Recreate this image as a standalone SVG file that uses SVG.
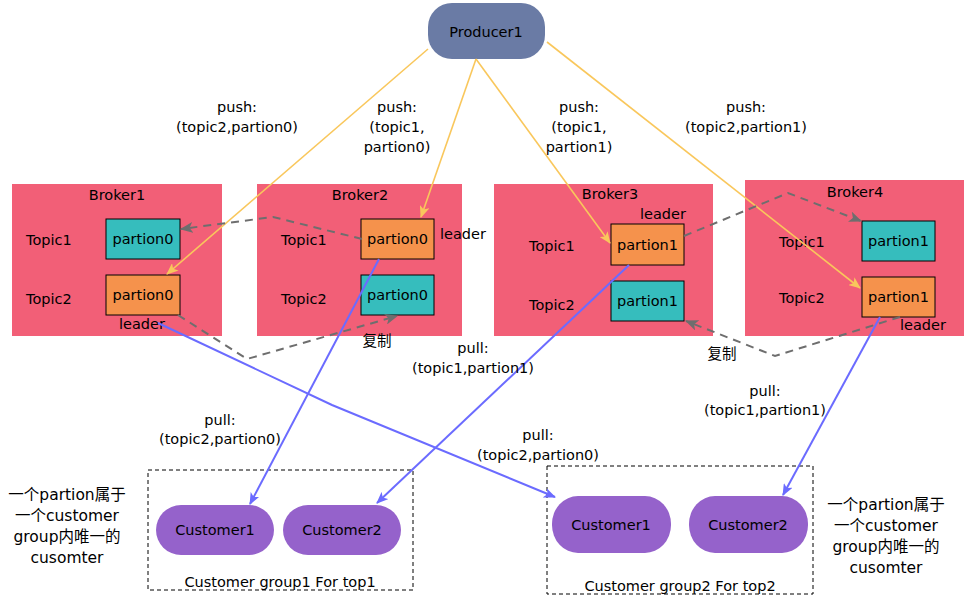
<svg xmlns="http://www.w3.org/2000/svg" width="976" height="602" viewBox="0 0 976 602">
<style>
text{font-family:"DejaVu Sans","Noto Sans CJK SC",sans-serif;font-size:14.5px;fill:#000}
.c{text-anchor:middle}
.note{font-size:15.5px}
.broker{fill:#f25f77}
.lead{fill:#f5924c;stroke:#000;stroke-width:1}
.rep{fill:#36bdbd;stroke:#000;stroke-width:1}
.cust{fill:#9562cb}
.grp{fill:none;stroke:#000;stroke-width:1;stroke-dasharray:4,3}
.push{fill:none;stroke:#f9c75c;stroke-width:1.6;marker-end:url(#ay)}
.pull{fill:none;stroke:#6b6bff;stroke-width:2;marker-end:url(#ab)}
.copy{fill:none;stroke:#6e6e6e;stroke-width:2;stroke-dasharray:8,6;marker-end:url(#ag)}
</style>
<defs>
<marker id="ay" viewBox="0 0 12 10" refX="11" refY="5" markerWidth="12" markerHeight="10" markerUnits="userSpaceOnUse" orient="auto"><path d="M0,0 L12,5 L0,10 L3,5 z" fill="#f9c75c"/></marker>
<marker id="ab" viewBox="0 0 12 10" refX="11" refY="5" markerWidth="12" markerHeight="10" markerUnits="userSpaceOnUse" orient="auto"><path d="M0,0 L12,5 L0,10 L3,5 z" fill="#6b6bff"/></marker>
<marker id="ag" viewBox="0 0 12 10" refX="11" refY="5" markerWidth="13" markerHeight="11" markerUnits="userSpaceOnUse" orient="auto"><path d="M0,0 L12,5 L0,10 L3,5 z" fill="#6e6e6e"/></marker>
</defs>
<rect width="976" height="602" fill="#fff"/>

<g id="producer1">
<rect x="428" y="3" width="117" height="56" rx="24" ry="24" fill="#6a7ba5"/>
<text class="c" x="486" y="37">Producer1</text>
</g>

<g id="broker1">
<rect class="broker" x="12" y="184" width="210" height="152"/>
<text class="c" x="117" y="200">Broker1</text>
<text x="26" y="245">Topic1</text>
<text x="26" y="304">Topic2</text>
<rect class="rep" x="106" y="219" width="74" height="40"/>
<text class="c" x="143" y="244">partion0</text>
<rect class="lead" x="106" y="275" width="74" height="40"/>
<text class="c" x="143" y="300">partion0</text>
<text class="c" x="142" y="329">leader</text>
</g>

<g id="broker2">
<rect class="broker" x="257" y="184" width="205" height="152"/>
<text class="c" x="360" y="200">Broker2</text>
<text x="281" y="245">Topic1</text>
<text x="281" y="304">Topic2</text>
<rect class="lead" x="361" y="219" width="73" height="40"/>
<text class="c" x="397.5" y="244">partion0</text>
<rect class="rep" x="361" y="275" width="73" height="40"/>
<text class="c" x="397.5" y="300">partion0</text>
<text x="440" y="239">leader</text>
</g>

<g id="broker3">
<rect class="broker" x="494" y="184" width="219" height="152"/>
<text class="c" x="610" y="199">Broker3</text>
<text x="529" y="251">Topic1</text>
<text x="529" y="310">Topic2</text>
<rect class="lead" x="611" y="224" width="73" height="41"/>
<text class="c" x="647.5" y="250">partion1</text>
<rect class="rep" x="611" y="281" width="73" height="40"/>
<text class="c" x="647.5" y="306">partion1</text>
<text class="c" x="663" y="219">leader</text>
</g>

<g id="broker4">
<rect class="broker" x="745" y="180" width="219" height="156"/>
<text class="c" x="855" y="197">Broker4</text>
<text x="779" y="247">Topic1</text>
<text x="779" y="303">Topic2</text>
<rect class="rep" x="862" y="221" width="73" height="40"/>
<text class="c" x="898.5" y="246">partion1</text>
<rect class="lead" x="862" y="277" width="73" height="40"/>
<text class="c" x="898.5" y="302">partion1</text>
<text class="c" x="923" y="330">leader</text>
</g>

<g id="group1">
<rect class="grp" x="148" y="470" width="265" height="120"/>
<rect class="cust" x="156" y="505" width="118" height="50" rx="25" ry="25"/>
<text class="c" x="215" y="535">Customer1</text>
<rect class="cust" x="283" y="505" width="118" height="50" rx="25" ry="25"/>
<text class="c" x="342" y="535">Customer2</text>
<text class="c" x="280" y="587">Customer group1 For top1</text>
</g>

<g id="group2">
<rect class="grp" x="547" y="466" width="266" height="128"/>
<rect class="cust" x="552" y="496" width="119" height="57" rx="26" ry="28"/>
<text class="c" x="611" y="530">Customer1</text>
<rect class="cust" x="689" y="496" width="119" height="57" rx="26" ry="28"/>
<text class="c" x="748" y="530">Customer2</text>
<text class="c" x="680" y="591">Customer group2 For top2</text>
</g>

<g id="note1">
<text class="c note" x="67" y="500">一个partion属于</text>
<text class="c note" x="67" y="521">一个customer</text>
<text class="c note" x="67" y="542">group内唯一的</text>
<text class="c note" x="67" y="563">cusomter</text>
</g>

<g id="note2">
<text class="c note" x="886" y="510">一个partion属于</text>
<text class="c note" x="886" y="531">一个customer</text>
<text class="c note" x="886" y="552">group内唯一的</text>
<text class="c note" x="886" y="573">cusomter</text>
</g>

<g id="connectors">
<path class="push" d="M428,49 L167,274"/>
<path class="push" d="M476,59 L421,217"/>
<path class="push" d="M476,59 L610,243"/>
<path class="push" d="M547,42 L860,288"/>

<path class="copy" d="M362,239 L273,217 L181,229"/>
<path class="copy" d="M178,315 L247,359 L397,316"/>
<path class="copy" d="M684,236 L788,193 L861,221"/>
<path class="copy" d="M900,317 L775,356 L686,321"/>

<path class="pull" d="M379,259 L250,504"/>
<path class="pull" d="M629,265 L377,503"/>
<path class="pull" d="M158,323 L332,405 L555,497"/>
<path class="pull" d="M880,317 L783,495"/>

<text class="c" x="237" y="112">push:</text>
<text class="c" x="237" y="132">(topic2,partion0)</text>
<text class="c" x="397" y="112">push:</text>
<text class="c" x="397" y="132">(topic1,</text>
<text class="c" x="397" y="152">partion0)</text>
<text class="c" x="579" y="112">push:</text>
<text class="c" x="579" y="132">(topic1,</text>
<text class="c" x="579" y="152">partion1)</text>
<text class="c" x="746" y="112">push:</text>
<text class="c" x="746" y="132">(topic2,partion1)</text>

<text class="c" x="377" y="346">复制</text>
<text class="c" x="722" y="359">复制</text>

<text class="c" x="220" y="425">pull:</text>
<text class="c" x="220" y="444">(topic2,partion0)</text>
<text class="c" x="473" y="353">pull:</text>
<text class="c" x="473" y="373">(topic1,partion1)</text>
<text class="c" x="538" y="440">pull:</text>
<text class="c" x="538" y="460">(topic2,partion0)</text>
<text class="c" x="765" y="396">pull:</text>
<text class="c" x="765" y="415">(topic1,partion1)</text>
</g>
</svg>
